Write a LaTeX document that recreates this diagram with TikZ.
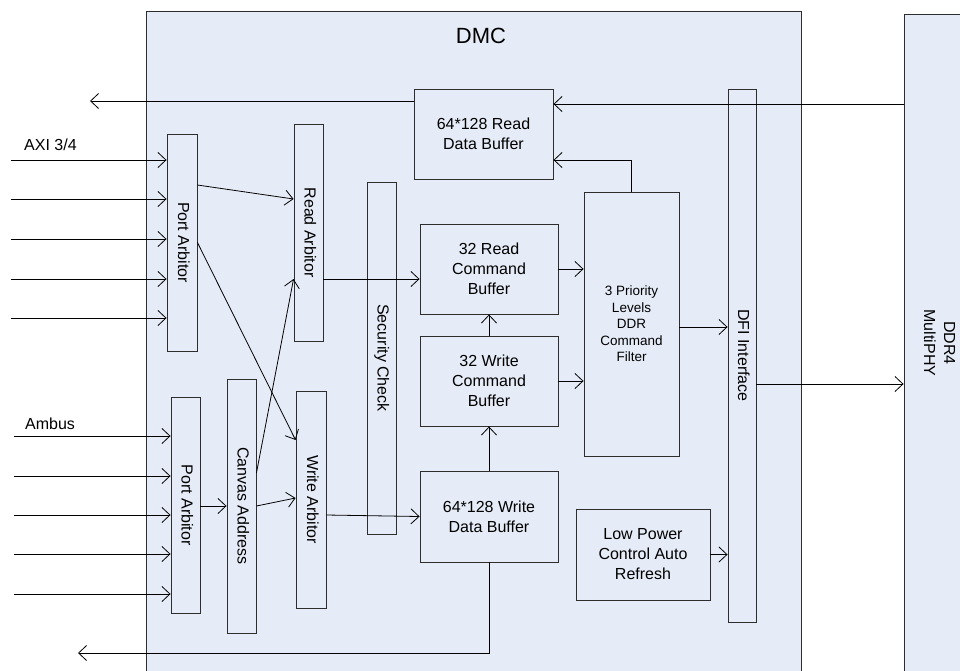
\documentclass[tikz,border=0pt]{standalone}
\usepackage{graphicx}
\usepackage{fontspec}
\setmainfont{Liberation Sans}
\usetikzlibrary{arrows.meta,calc}
\definecolor{bg}{RGB}{230,236,247}
\definecolor{edge}{RGB}{45,45,45}
\newcommand{\vtext}[1]{\rotatebox{-90}{\begin{tabular}{@{}c@{}}#1\end{tabular}}}
\begin{document}
\begin{tikzpicture}[x=1pt,y=-1pt,
  every node/.style={font=\fontsize{16}{20}\selectfont, text=black},
  box/.style={draw=edge, line width=0.9pt, inner sep=0pt, align=center},
  arr/.style={draw=black, line width=0.8pt, -{Straight Barb[length=8pt,width=15pt]}},
  small/.style={font=\fontsize{13.5}{16.5}\selectfont}]
\useasboundingbox (0,0) rectangle (960,670);
\clip (0,0) rectangle (960,670);
% containers
\node[box, fill=bg, minimum width=655pt, minimum height=672pt, anchor=north west] (dmc) at (146,11) {};
\node[font=\fontsize{22}{26}\selectfont, anchor=base] (dmclabel) at (481,43) {DMC};
\node[draw=edge, line width=0.9pt, fill=bg, inner sep=0pt, minimum width=68pt, minimum height=658pt] (ddr) at (938,343) {\vtext{DDR4\\MultiPHY}};
% vertical blocks
\node[box, minimum width=30pt, minimum height=217pt] (pa1) at (182,242.5) {\vtext{Port Arbitor}};
\node[box, minimum width=29pt, minimum height=217pt] (ra) at (308.5,232.5) {\vtext{Read Arbitor}};
\node[box, minimum width=29pt, minimum height=216pt] (pa2) at (185.5,505) {\vtext{Port Arbitor}};
\node[box, minimum width=29pt, minimum height=254pt] (ca) at (241.5,506) {\vtext{Canvas Address}};
\node[box, minimum width=30pt, minimum height=217pt] (wa) at (311,499.5) {\vtext{Write Arbitor}};
\node[box, minimum width=29pt, minimum height=352pt] (sc) at (381.5,358) {\vtext{Security Check}};
\node[box, minimum width=28pt, minimum height=533pt] (dfi) at (742,355.5) {\vtext{DFI Interface}};
% buffers
\node[box, minimum width=139pt, minimum height=90pt] (rdb) at (483.5,134) {64*128 Read\\Data Buffer};
\node[box, minimum width=138pt, minimum height=90pt] (rcb) at (489,269) {32 Read\\Command\\Buffer};
\node[box, minimum width=138pt, minimum height=90pt] (wcb) at (489,381) {32 Write\\Command\\Buffer};
\node[box, minimum width=138pt, minimum height=91pt] (wdb) at (489,516.5) {64*128 Write\\Data Buffer};
\node[box, small, minimum width=95pt, minimum height=264pt] (flt) at (631.5,324) {3 Priority\\Levels\\DDR\\Command\\Filter};
\node[box, minimum width=134pt, minimum height=91pt] (lp) at (643,554.5) {Low Power\\Control Auto\\Refresh};
% labels
\node[anchor=base west, inner sep=0pt] (axil) at (24,150) {AXI 3/4};
\node[anchor=base west, inner sep=0pt] (ambl) at (25,429) {Ambus};
% free ends and connection points
\coordinate (a1) at (11,160);
\coordinate (a2) at (11,199);
\coordinate (a3) at (11,239);
\coordinate (a4) at (11,279);
\coordinate (a5) at (11,318);
\coordinate (b1) at (14,436);
\coordinate (b2) at (14,476);
\coordinate (b3) at (14,515);
\coordinate (b4) at (14,554);
\coordinate (b5) at (14,594);
\coordinate (rdout) at (90,101);
\coordinate (wdout) at (78,653);
\coordinate (phyout) at ($(dfi.east)+(0,28.5)$);
\coordinate (phyin) at ($(rdb.east)+(0,-30)$);
\coordinate (fltret) at ($(rdb.east)+(0,26)$);
% inputs
\foreach \c in {a1,a2,a3,a4,a5} \draw[arr] (\c) -- (\c -| pa1.west);
\foreach \c in {b1,b2,b3,b4,b5} \draw[arr] (\c) -- (\c -| pa2.west);
% outputs to the left
\draw[arr] (rdb.west |- rdout) -- (rdout);
\draw[arr] (wdb.south) |- (wdout);
% arbitration
\draw[arr] ($(pa1.east)+(0,-57.5)$) -- ($(ra.west)+(0,-33.5)$);
\draw[arr] (pa1.east) -- ($(wa.west)+(0,-59.5)$);
\draw[arr] ($(ca.east)+(0,-33)$) -- ($(ra.west)+(0,46.5)$);
\draw[arr] (pa2.east |- ca.west) -- (ca.west);
\draw[arr] (ca.east) -- ($(wa.west)+(0,-1.5)$);
\draw[arr] ($(ra.east)+(0,46.5)$) -- ($(rcb.west)+(0,10)$);
\draw[arr] ($(wa.east)+(0,15.5)$) -- (wdb.west);
% buffers
\draw[arr] (wcb.north) -- (rcb.south);
\draw[arr] (wdb.north) -- (wcb.south);
\draw[arr] (rcb.east) -- (rcb.east -| flt.west);
\draw[arr] (wcb.east) -- (wcb.east -| flt.west);
\draw[arr] (flt.north) |- (fltret);
\draw[arr] ($(flt.east)+(0,3)$) -- ($(dfi.west)+(0,-28.5)$);
\draw[arr] (lp.east) -- (lp.east -| dfi.west);
% PHY
\draw[arr] (phyout) -- (phyout -| ddr.west);
\draw[arr] (phyin -| ddr.west) -- (phyin);
\end{tikzpicture}
\end{document}
